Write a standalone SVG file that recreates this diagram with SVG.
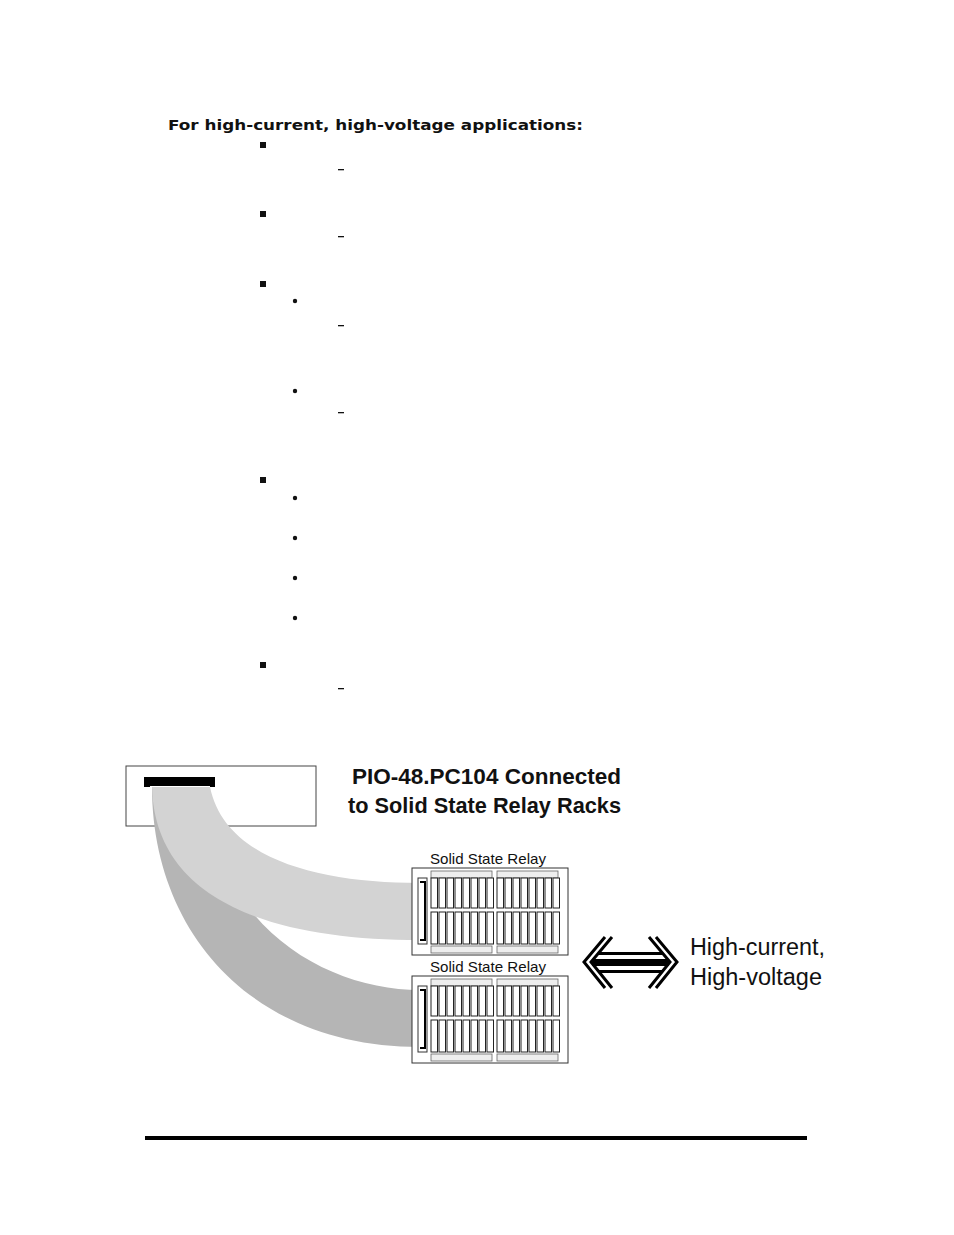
<svg xmlns="http://www.w3.org/2000/svg" width="954" height="1235" viewBox="0 0 954 1235">
<style>
.t{font-family:"Liberation Sans",Arial,sans-serif;fill:#111}
.sq{fill:#111}
.rk{fill:#fff;stroke:#333;stroke-width:1}
.cell{fill:#fff;stroke:#222;stroke-width:1}
.strip{fill:#eee;stroke:#666;stroke-width:0.8}
</style>
<defs>
<g id="rack">
<rect class="rk" x="0" y="0" width="156" height="87"/>
<rect class="strip" x="19" y="3" width="61" height="7"/>
<rect class="strip" x="85" y="3" width="61" height="7"/>
<rect class="strip" x="19" y="78" width="61" height="7"/>
<rect class="strip" x="85" y="78" width="61" height="7"/>
<g class="cell">
<rect x="19" y="10" width="6.5" height="30"/><rect x="27" y="10" width="6.5" height="30"/><rect x="35" y="10" width="6.5" height="30"/><rect x="43" y="10" width="6.5" height="30"/><rect x="51" y="10" width="6.5" height="30"/><rect x="59" y="10" width="6.5" height="30"/><rect x="67" y="10" width="6.5" height="30"/><rect x="75" y="10" width="6.5" height="30"/>
<rect x="85" y="10" width="6.5" height="30"/><rect x="93" y="10" width="6.5" height="30"/><rect x="101" y="10" width="6.5" height="30"/><rect x="109" y="10" width="6.5" height="30"/><rect x="117" y="10" width="6.5" height="30"/><rect x="125" y="10" width="6.5" height="30"/><rect x="133" y="10" width="6.5" height="30"/><rect x="141" y="10" width="6.5" height="30"/>
<rect x="19" y="44" width="6.5" height="32"/><rect x="27" y="44" width="6.5" height="32"/><rect x="35" y="44" width="6.5" height="32"/><rect x="43" y="44" width="6.5" height="32"/><rect x="51" y="44" width="6.5" height="32"/><rect x="59" y="44" width="6.5" height="32"/><rect x="67" y="44" width="6.5" height="32"/><rect x="75" y="44" width="6.5" height="32"/>
<rect x="85" y="44" width="6.5" height="32"/><rect x="93" y="44" width="6.5" height="32"/><rect x="101" y="44" width="6.5" height="32"/><rect x="109" y="44" width="6.5" height="32"/><rect x="117" y="44" width="6.5" height="32"/><rect x="125" y="44" width="6.5" height="32"/><rect x="133" y="44" width="6.5" height="32"/><rect x="141" y="44" width="6.5" height="32"/>
</g>
<rect x="6" y="10" width="9" height="66" fill="#fff" stroke="#333" stroke-width="1"/>
<path d="M8,14 H13 V72 H8" fill="none" stroke="#000" stroke-width="2"/>
</g>
</defs>
<text x="168" y="130" font-size="14.5" font-weight="bold" font-family="DejaVu Sans, sans-serif" fill="#111" textLength="415" lengthAdjust="spacingAndGlyphs">For high-current, high-voltage applications:</text>
<g id="bullets">
<rect class="sq" x="260" y="142" width="6" height="6"/>
<rect class="sq" x="260" y="211" width="6" height="6"/>
<rect class="sq" x="260" y="281" width="6" height="6"/>
<rect class="sq" x="260" y="477" width="6" height="6"/>
<rect class="sq" x="260" y="662" width="6" height="6"/>
<circle class="sq" cx="295" cy="301" r="2.2"/>
<circle class="sq" cx="295" cy="391" r="2.2"/>
<circle class="sq" cx="295" cy="498" r="2.2"/>
<circle class="sq" cx="295" cy="538" r="2.2"/>
<circle class="sq" cx="295" cy="578" r="2.2"/>
<circle class="sq" cx="295" cy="618" r="2.2"/>
<rect class="sq" x="338" y="169" width="6" height="1.3"/>
<rect class="sq" x="338" y="236" width="6" height="1.3"/>
<rect class="sq" x="338" y="325" width="6" height="1.3"/>
<rect class="sq" x="338" y="412" width="6" height="1.3"/>
<rect class="sq" x="338" y="688" width="6" height="1.3"/>
</g>
<g id="board">
<rect x="126" y="766" width="190" height="60" fill="#fff" stroke="#444" stroke-width="1"/>
</g>
<g id="connectors">
<path d="M205,787 C215,930 330,990 420,990 L420,1047 C250,1047 152,930 152,787 Z" fill="#b5b5b5"/>
<path d="M210,787 C225,860 320,883 420,883 L420,940 C270,940 155,900 152,787 Z" fill="#d3d3d3"/>
</g>
<g id="connector-bar">
<path d="M144,777 H215 V787 H210 V786 H150 V787 H144 Z" fill="#000"/>
</g>
<g id="title">
<text class="t" x="352" y="784" font-size="22.5" font-weight="bold" textLength="269" lengthAdjust="spacingAndGlyphs">PIO-48.PC104 Connected</text>
<text class="t" x="348" y="813" font-size="22.5" font-weight="bold" textLength="273" lengthAdjust="spacingAndGlyphs">to Solid State Relay Racks</text>
</g>
<g id="rack1">
<text class="t" x="430" y="864" font-size="15" textLength="116" lengthAdjust="spacingAndGlyphs">Solid State Relay</text>
<use href="#rack" x="412" y="868"/>
</g>
<g id="rack2">
<text class="t" x="430" y="972" font-size="15" textLength="116" lengthAdjust="spacingAndGlyphs">Solid State Relay</text>
<use href="#rack" x="412" y="976"/>
</g>
<g id="arrow">
<path d="M605,937 L584,962 L605,988 M612,937 L591,962 L612,988" fill="none" stroke="#000" stroke-width="3"/>
<path d="M656,937 L677,962 L656,988 M649,937 L670,962 L649,988" fill="none" stroke="#000" stroke-width="3"/>
<rect x="598" y="952" width="65" height="3" fill="#000"/>
<rect x="592" y="959" width="77" height="7" fill="#000"/>
<rect x="598" y="970" width="65" height="3" fill="#000"/>
<text class="t" x="690" y="955" font-size="23" textLength="135" lengthAdjust="spacingAndGlyphs">High-current,</text>
<text class="t" x="690" y="985" font-size="23" textLength="132" lengthAdjust="spacingAndGlyphs">High-voltage</text>
</g>
<rect x="145" y="1136" width="662" height="4" fill="#000"/>
</svg>
